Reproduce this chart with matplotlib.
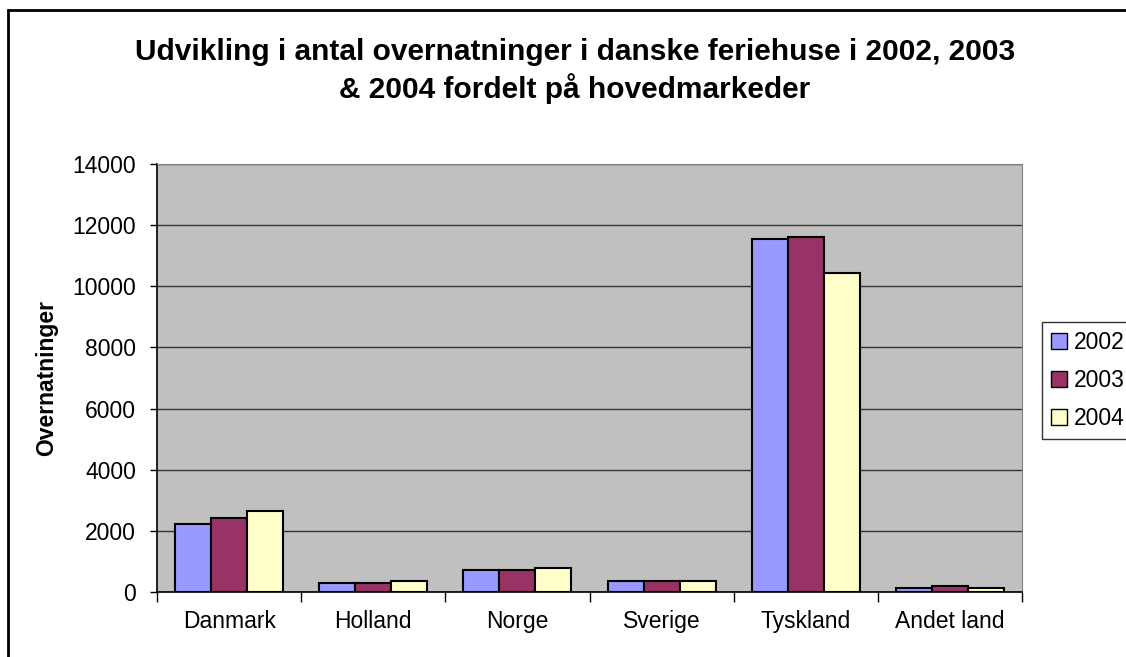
import numpy as np
import matplotlib.pyplot as plt
from matplotlib.patches import Rectangle

plt.rcParams['font.family'] = ['Liberation Sans', 'DejaVu Sans']

lande = ["Danmark", "Holland", "Norge", "Sverige", "Tyskland", "Andet land"]
aar = ["2002", "2003", "2004"]
v2002 = [2230, 300, 720, 360, 11550, 130]
v2003 = [2420, 300, 720, 360, 11610, 190]
v2004 = [2650, 360, 780, 360, 10430, 130]
farver = ["#9999ff", "#993366", "#ffffcc"]

fig = plt.figure(figsize=(11.26, 6.57), dpi=100)
W, H = 1126, 657
# ramme rundt om hele diagrammet (gaar ud over kanten til hoejre og nederst)
fig.patches.append(Rectangle((8 / W, -0.1), 1.2, 1 - 10 / H + 0.1, transform=fig.transFigure,
                             fill=False, edgecolor="black", linewidth=2))

ax = fig.add_axes([157 / W, 1 - 592 / H, (1022 - 157) / W, (592 - 164) / H])
ax.set_facecolor("#c0c0c0")

x = np.arange(len(lande)) + 0.5
bw = 0.25
for i, (vals, farve) in enumerate(zip([v2002, v2003, v2004], farver)):
    ax.bar(x + (i - 1) * bw, vals, width=bw, color=farve, edgecolor="black",
           linewidth=1.5, label=aar[i], zorder=3)

ax.set_xlim(0, len(lande))
ax.set_ylim(0, 14000)
ax.set_yticks(np.arange(0, 14001, 2000))
ax.yaxis.grid(True, color="#333333", linewidth=1, zorder=0)
ax.set_axisbelow(True)

ax.set_xticks(np.arange(0, len(lande) + 1))
ax.set_xticklabels([])
ax.set_xticks(x, minor=True)
ax.set_xticklabels(lande, minor=True)
ax.tick_params(axis="x", which="major", length=7, direction="out", width=1)
ax.tick_params(axis="x", which="minor", length=0, pad=13, labelsize=16.5)
ax.tick_params(axis="y", length=5, width=1, labelsize=16.5, pad=10)

for s in ["top", "right"]:
    ax.spines[s].set_color("#808080")
for s in ["left", "bottom"]:
    ax.spines[s].set_color("black")
    ax.spines[s].set_linewidth(1.2)

ax.set_ylabel("Overnatninger", fontsize=16.5, fontweight="bold")
ax.yaxis.set_label_coords((58 - 157) / (1022 - 157), 0.5)

fig.text(575 / W, 1 - 71 / H,
         "Udvikling i antal overnatninger i danske feriehuse i 2002, 2003\n& 2004 fordelt på hovedmarkeder",
         ha="center", va="center", fontsize=21.5, fontweight="bold", linespacing=1.27)

leg = ax.legend(loc="upper left", bbox_to_anchor=(1042 / W, 1 - 322 / H), bbox_transform=fig.transFigure,
                fontsize=16.5, frameon=True, fancybox=False, edgecolor="black", handlelength=0.7,
                handleheight=0.7, handletextpad=0.3, borderpad=0.4, labelspacing=0.65, borderaxespad=0)
leg.get_frame().set_linewidth(1)
for h in leg.legend_handles:
    h.set_linewidth(1)

fig.savefig("out.png", dpi=100)
